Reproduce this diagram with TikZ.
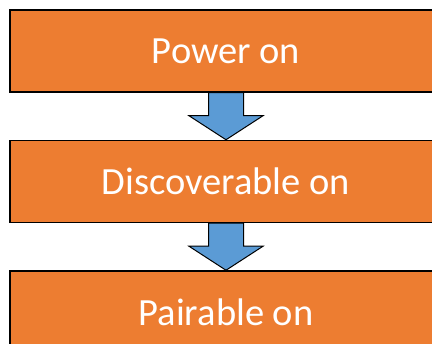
\documentclass[tikz,border=0pt]{standalone}
\usepackage{fontspec}
\setmainfont{Carlito}
\usetikzlibrary{positioning,calc}

\definecolor{boxorange}{HTML}{ED7D31}
\definecolor{arrowblue}{HTML}{5B9BD5}

\begin{document}
\begin{tikzpicture}[line cap=round,line join=miter,x=1pt,y=1pt,
  stagebox/.style={draw=black,line width=1.5pt,fill=boxorange,text=white,
    minimum width=432pt,minimum height=82pt,inner sep=0pt,
    font=\fontsize{38.5}{42}\selectfont},
  blockarrow/.style={draw=black,line width=1pt,fill=arrowblue},
  node distance=47pt]

\useasboundingbox (0,0) rectangle (432,344);
\clip (0,0) rectangle (432,344);

\node[stagebox] (power) at (226,293) {Power on};
\node[stagebox,below=of power] (discover) {Discoverable on};
\node[stagebox,below=of discover] (pair) {Pairable on};

% block arrows between the stages
\foreach \top/\bot in {power/discover,discover/pair}{
\draw[blockarrow] let \p1=(\top.south), \p2=(\bot.north) in
  (\x1-17.5,\y1) -- (\x1+17.5,\y1) -- (\x1+17.5,\y2+24)
  -- (\x1+37,\y2+24) -- (\x1,\y2) -- (\x1-37,\y2+24)
  -- (\x1-17.5,\y2+24) -- cycle;
}
\end{tikzpicture}
\end{document}
